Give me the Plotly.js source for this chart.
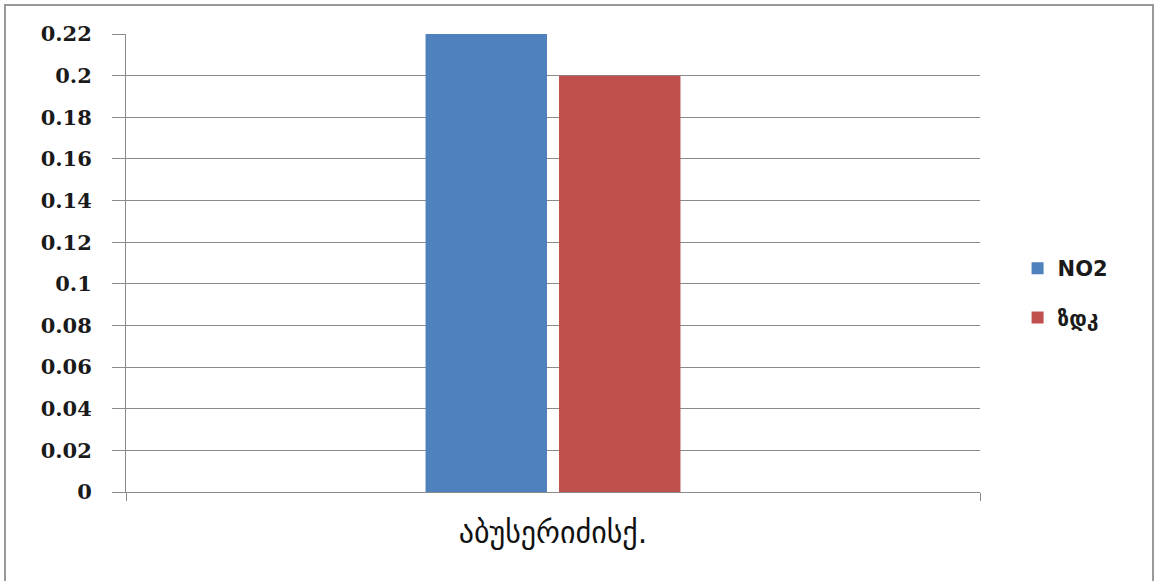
<!DOCTYPE html>
<html>
<head>
<meta charset="utf-8">
<script src="https://cdn.plot.ly/plotly-3.0.1.min.js"></script>
<style>
  html, body { margin: 0; padding: 0; background: #ffffff; }
  #chart { width: 1155px; height: 581px; }
</style>
</head>
<body>
<div id="chart"></div>
<script>
// Category and series values
const categories = ["აბუსერიძისქ."];
const seriesNames = ["NO2", "ზდკ"];
const no2Values = [0.22];
const limitValues = [0.2];
const yTickValues = [0, 0.02, 0.04, 0.06, 0.08, 0.1, 0.12, 0.14, 0.16, 0.18, 0.2, 0.22];

const W = 1155, H = 581;
const M = { l: 126, r: 175, t: 34, b: 89 };
const plotW = W - M.l - M.r;
const plotH = H - M.t - M.b;

// outer chart frame, expressed in paper fractions
const px = x => (x - M.l) / plotW;
const py = y => (H - M.b - y) / plotH;

const gray = "#8a8a8a";

const traces = [
  {
    type: "bar",
    name: seriesNames[0],
    x: categories,
    y: no2Values,
    marker: { color: "#4F81BD" },
    legendgroup: "a",
    hoverinfo: "x+y+name"
  },
  {
    type: "bar",
    name: seriesNames[1],
    x: categories,
    y: limitValues,
    marker: { color: "#C0504D" },
    legendgroup: "b",
    hoverinfo: "x+y+name"
  }
];

const layout = {
  width: W,
  height: H,
  margin: M,
  paper_bgcolor: "#ffffff",
  plot_bgcolor: "#ffffff",
  barmode: "group",
  bargap: 0.6874,
  bargroupgap: 0.09,
  showlegend: true,
  legend: {
    x: 1.044,
    y: py(293),
    xanchor: "left",
    yanchor: "middle",
    traceorder: "grouped",
    tracegroupgap: 19,
    font: { family: "DejaVu Sans, sans-serif", size: 21, color: "#1a1a1a", weight: "bold" },
    bgcolor: "rgba(0,0,0,0)",
    borderwidth: 0
  },
  xaxis: {
    type: "category",
    tickson: "boundaries",
    ticks: "outside",
    ticklen: 8,
    tickwidth: 1,
    tickcolor: gray,
    showline: true,
    linecolor: gray,
    linewidth: 1,
    showgrid: false,
    zeroline: false,
    tickfont: { family: "DejaVu Sans, sans-serif", size: 30, color: "#111111" },
    ticklabelstandoff: 14
  },
  yaxis: {
    range: [0, 0.22],
    tickmode: "array",
    tickvals: yTickValues,
    ticks: "outside",
    ticklen: 13,
    tickwidth: 1,
    tickcolor: gray,
    showline: true,
    linecolor: gray,
    linewidth: 1,
    showgrid: true,
    gridcolor: gray,
    gridwidth: 1,
    zeroline: false,
    tickfont: { family: "DejaVu Serif, serif", size: 21, color: "#1a1a1a", weight: "bold" },
    ticklabelstandoff: 16
  },
  shapes: [
    {
      type: "rect",
      xref: "paper",
      yref: "paper",
      x0: px(5),
      x1: px(1153),
      y0: py(590),
      y1: py(5),
      line: { color: "#999999", width: 2 },
      fillcolor: "rgba(0,0,0,0)",
      layer: "below"
    }
  ]
};

Plotly.newPlot("chart", traces, layout, { displayModeBar: false, staticPlot: true });
</script>
</body>
</html>
